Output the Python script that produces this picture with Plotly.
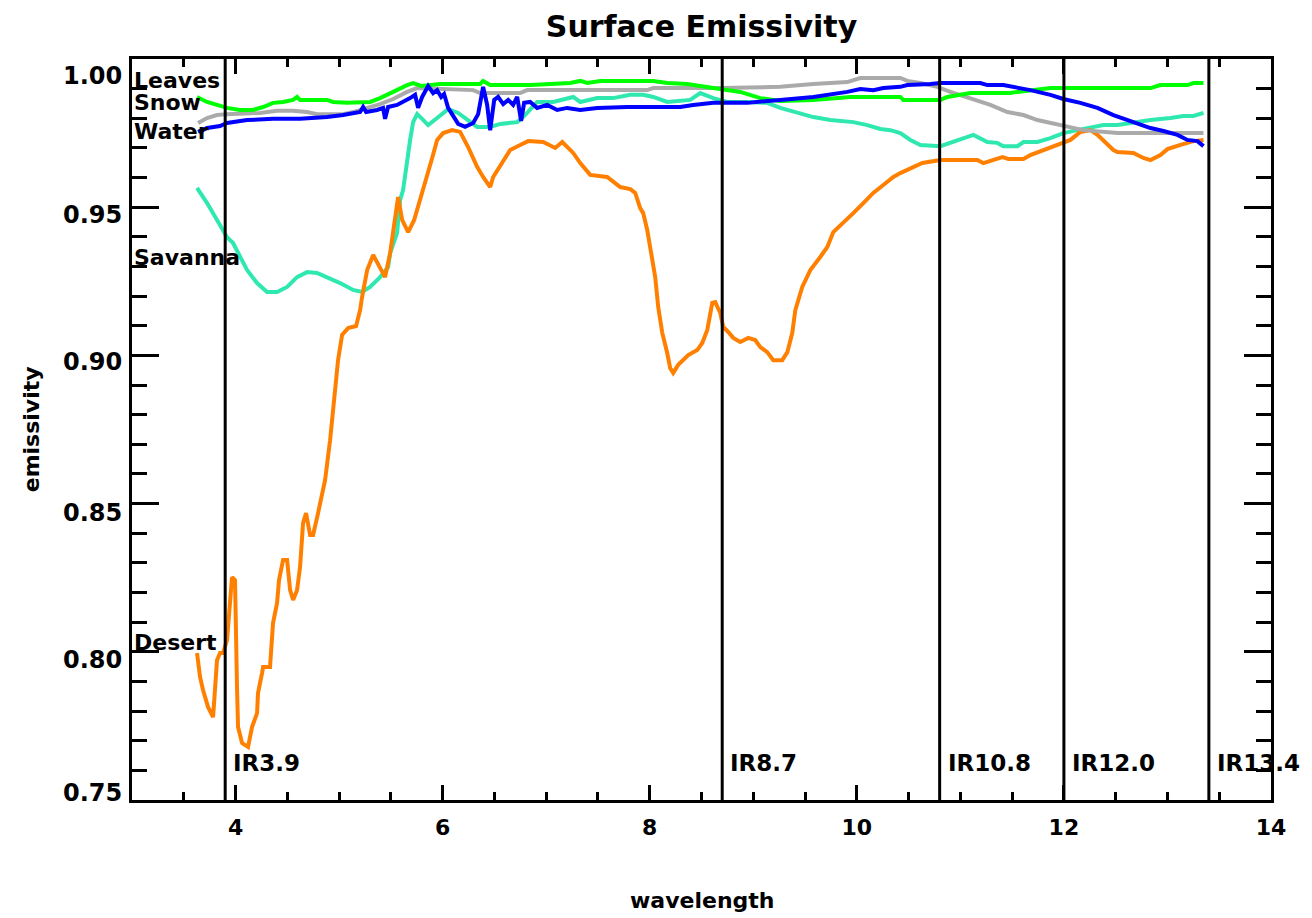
import plotly.graph_objects as go

# ---------------- data ----------------
desert_x = [3.628, 3.657, 3.686, 3.734, 3.783, 3.802, 3.821, 3.850, 3.879, 3.918, 3.947, 3.966, 3.995,
            4.005, 4.014, 4.024, 4.063, 4.121, 4.159, 4.208, 4.217, 4.256, 4.266, 4.333, 4.362, 4.401,
            4.420, 4.459, 4.498, 4.527, 4.556, 4.594, 4.623, 4.652, 4.681, 4.720, 4.749, 4.797, 4.836,
            4.865, 4.913, 4.952, 4.990, 5.029, 5.087, 5.164, 5.203, 5.222, 5.271, 5.329, 5.396, 5.444,
            5.493, 5.541, 5.570, 5.609, 5.667, 5.725, 5.783, 5.850, 5.899, 5.947, 6.005, 6.092, 6.169,
            6.246, 6.333, 6.391, 6.459, 6.488, 6.585, 6.652, 6.749, 6.826, 6.971, 7.039, 7.087, 7.155,
            7.261, 7.329, 7.425, 7.589, 7.715, 7.812, 7.860, 7.908, 7.937, 7.976, 8.024, 8.053, 8.082,
            8.121, 8.169, 8.198, 8.227, 8.275, 8.372, 8.459, 8.507, 8.556, 8.604, 8.633, 8.681, 8.710,
            8.758, 8.807, 8.874, 8.952, 9.019, 9.068, 9.135, 9.193, 9.280, 9.329, 9.377, 9.406, 9.473,
            9.551, 9.647, 9.715, 9.773, 9.870, 9.966, 10.063, 10.159, 10.256, 10.353, 10.420, 10.517,
            10.633, 10.807, 11.164, 11.222, 11.319, 11.406, 11.464, 11.609, 11.676, 11.802, 11.937,
            12.063, 12.159, 12.256, 12.324, 12.478, 12.517, 12.671, 12.768, 12.836, 12.932, 13.000,
            13.126, 13.251, 13.348]
desert_y = [0.7996, 0.7915, 0.7871, 0.7814, 0.7780, 0.7861, 0.7972, 0.7996, 0.7996, 0.8040, 0.8151,
            0.8252, 0.8242, 0.7949, 0.7881, 0.7746, 0.7692, 0.7679, 0.7746, 0.7793, 0.7861, 0.7928,
            0.7949, 0.7949, 0.8097, 0.8165, 0.8242, 0.8310, 0.8310, 0.8208, 0.8175, 0.8208, 0.8286,
            0.8434, 0.8468, 0.8394, 0.8394, 0.8468, 0.8536, 0.8580, 0.8714, 0.8849, 0.8984, 0.9069,
            0.9092, 0.9099, 0.9153, 0.9197, 0.9288, 0.9339, 0.9298, 0.9264, 0.9345, 0.9457, 0.9534,
            0.9457, 0.9416, 0.9457, 0.9524, 0.9599, 0.9666, 0.9727, 0.9750, 0.9760, 0.9754, 0.9703,
            0.9636, 0.9602, 0.9568, 0.9602, 0.9659, 0.9693, 0.9710, 0.9723, 0.9720, 0.9710, 0.9700,
            0.9720, 0.9683, 0.9649, 0.9609, 0.9602, 0.9568, 0.9561, 0.9548, 0.9497, 0.9480, 0.9423,
            0.9332, 0.9264, 0.9163, 0.9076, 0.9008, 0.8957, 0.8941, 0.8968, 0.9001, 0.9018, 0.9042,
            0.9086, 0.9177, 0.9180, 0.9143, 0.9096, 0.9079, 0.9059, 0.9045, 0.9059, 0.9052, 0.9028,
            0.9011, 0.8984, 0.8984, 0.9011, 0.9076, 0.9153, 0.9231, 0.9288, 0.9332, 0.9366, 0.9416,
            0.9447, 0.9480, 0.9514, 0.9548, 0.9575, 0.9602, 0.9615, 0.9632, 0.9649, 0.9659, 0.9659,
            0.9649, 0.9659, 0.9669, 0.9663, 0.9663, 0.9676, 0.9693, 0.9710, 0.9727, 0.9754, 0.9760,
            0.9744, 0.9693, 0.9686, 0.9683, 0.9666, 0.9659, 0.9676, 0.9696, 0.9710, 0.9723, 0.9727]

savanna_x = [3.628, 3.725, 3.821, 3.918, 3.976, 4.043, 4.111, 4.208, 4.304, 4.401, 4.498, 4.594, 4.691,
             4.787, 4.884, 5.010, 5.135, 5.222, 5.300, 5.396, 5.473, 5.493, 5.560, 5.589, 5.618, 5.657,
             5.686, 5.715, 5.754, 5.802, 5.860, 5.947, 6.053, 6.150, 6.237, 6.333, 6.459, 6.556, 6.720,
             6.778, 6.913, 7.068, 7.261, 7.329, 7.493, 7.647, 7.812, 7.937, 8.034, 8.169, 8.391, 8.488,
             8.614, 8.749, 8.942, 9.135, 9.261, 9.454, 9.580, 9.744, 9.966, 10.101, 10.227, 10.324,
             10.420, 10.517, 10.614, 10.807, 10.903, 11.029, 11.126, 11.261, 11.357, 11.415, 11.551,
             11.609, 11.744, 11.870, 11.995, 12.130, 12.256, 12.382, 12.517, 12.643, 12.836, 13.029,
             13.155, 13.251, 13.348]
savanna_y = [0.9565, 0.9514, 0.9457, 0.9399, 0.9379, 0.9332, 0.9288, 0.9244, 0.9214, 0.9214, 0.9231,
             0.9264, 0.9281, 0.9278, 0.9264, 0.9244, 0.9221, 0.9214, 0.9231, 0.9264, 0.9298, 0.9345,
             0.9413, 0.9524, 0.9558, 0.9669, 0.9727, 0.9787, 0.9814, 0.9798, 0.9777, 0.9801, 0.9831,
             0.9818, 0.9794, 0.9771, 0.9771, 0.9781, 0.9787, 0.9804, 0.9855, 0.9855, 0.9872, 0.9855,
             0.9868, 0.9868, 0.9879, 0.9879, 0.9872, 0.9855, 0.9862, 0.9885, 0.9868, 0.9855, 0.9855,
             0.9852, 0.9835, 0.9818, 0.9804, 0.9794, 0.9787, 0.9777, 0.9764, 0.9760, 0.9750, 0.9727,
             0.9710, 0.9706, 0.9717, 0.9733, 0.9744, 0.9720, 0.9717, 0.9706, 0.9706, 0.9720, 0.9720,
             0.9733, 0.9750, 0.9760, 0.9767, 0.9777, 0.9777, 0.9784, 0.9794, 0.9801, 0.9808, 0.9808,
             0.9818]

leaves_x = [3.628, 3.725, 3.821, 3.918, 4.043, 4.169, 4.266, 4.362, 4.459, 4.556, 4.594, 4.623, 4.884,
            4.942, 5.077, 5.203, 5.300, 5.396, 5.493, 5.589, 5.657, 5.715, 5.792, 5.976, 6.362, 6.391,
            6.459, 6.845, 7.232, 7.329, 7.396, 7.522, 8.034, 8.169, 8.362, 8.614, 8.874, 9.068, 9.261,
            9.580, 9.937, 10.420, 10.449, 10.807, 10.874, 11.097, 11.483, 11.551, 11.870, 12.836,
            12.932, 13.193, 13.251, 13.348]
leaves_y = [0.9872, 0.9855, 0.9845, 0.9835, 0.9828, 0.9828, 0.9838, 0.9852, 0.9855, 0.9862, 0.9872,
            0.9862, 0.9862, 0.9855, 0.9852, 0.9852, 0.9855, 0.9868, 0.9885, 0.9902, 0.9912, 0.9919,
            0.9909, 0.9916, 0.9916, 0.9926, 0.9912, 0.9912, 0.9919, 0.9926, 0.9919, 0.9926, 0.9926,
            0.9919, 0.9916, 0.9902, 0.9889, 0.9868, 0.9858, 0.9862, 0.9872, 0.9872, 0.9862, 0.9862,
            0.9872, 0.9885, 0.9885, 0.9889, 0.9902, 0.9902, 0.9912, 0.9912, 0.9919, 0.9919]

snow_x = [3.638, 3.725, 3.821, 3.918, 4.237, 4.401, 4.556, 4.691, 4.787, 5.039, 5.135, 5.271, 5.396,
          5.522, 5.657, 5.754, 6.295, 6.362, 6.749, 6.816, 7.976, 8.034, 8.681, 9.261, 9.580, 9.908,
          10.034, 10.420, 10.488, 10.614, 10.778, 10.903, 11.097, 11.290, 11.454, 11.609, 11.744,
          11.870, 12.034, 12.188, 12.517, 13.348]
snow_y = [0.9784, 0.9801, 0.9811, 0.9814, 0.9818, 0.9825, 0.9825, 0.9821, 0.9814, 0.9814, 0.9821,
          0.9835, 0.9848, 0.9865, 0.9889, 0.9902, 0.9895, 0.9885, 0.9885, 0.9895, 0.9895, 0.9902,
          0.9902, 0.9906, 0.9916, 0.9922, 0.9936, 0.9936, 0.9926, 0.9919, 0.9906, 0.9889, 0.9868,
          0.9845, 0.9821, 0.9811, 0.9794, 0.9784, 0.9771, 0.9760, 0.9750, 0.9750]

water_x = [3.638, 3.725, 3.850, 3.918, 4.111, 4.362, 4.623, 4.884, 5.039, 5.135, 5.203, 5.232, 5.261,
           5.367, 5.425, 5.444, 5.473, 5.560, 5.618, 5.686, 5.734, 5.763, 5.802, 5.860, 5.908, 5.947,
           5.986, 6.014, 6.053, 6.101, 6.150, 6.217, 6.295, 6.343, 6.391, 6.430, 6.459, 6.498, 6.536,
           6.585, 6.633, 6.681, 6.720, 6.758, 6.787, 6.845, 6.913, 7.010, 7.106, 7.203, 7.329, 7.493,
           7.783, 8.295, 8.420, 8.614, 8.942, 9.261, 9.580, 9.908, 10.034, 10.159, 10.256, 10.420,
           10.488, 10.710, 10.807, 11.193, 11.261, 11.415, 11.512, 11.676, 11.870, 11.995, 12.159,
           12.324, 12.478, 12.671, 12.836, 12.961, 13.097, 13.193, 13.290, 13.348]
water_y = [0.9754, 0.9767, 0.9774, 0.9784, 0.9794, 0.9798, 0.9798, 0.9804, 0.9811, 0.9818, 0.9821,
           0.9838, 0.9821, 0.9828, 0.9835, 0.9798, 0.9838, 0.9845, 0.9855, 0.9868, 0.9879, 0.9835,
           0.9872, 0.9909, 0.9885, 0.9895, 0.9872, 0.9882, 0.9835, 0.9808, 0.9781, 0.9771, 0.9784,
           0.9814, 0.9906, 0.9845, 0.9760, 0.9862, 0.9872, 0.9848, 0.9862, 0.9845, 0.9872, 0.9791,
           0.9852, 0.9855, 0.9835, 0.9845, 0.9828, 0.9835, 0.9828, 0.9835, 0.9838, 0.9838, 0.9845,
           0.9852, 0.9852, 0.9862, 0.9872, 0.9889, 0.9899, 0.9895, 0.9902, 0.9906, 0.9912, 0.9916,
           0.9919, 0.9919, 0.9912, 0.9912, 0.9906, 0.9895, 0.9879, 0.9865, 0.9852, 0.9835, 0.9811,
           0.9787, 0.9767, 0.9757, 0.9744, 0.9727, 0.9723, 0.9706]

series_names = ["Savanna", "Desert", "Snow", "Leaves", "Water"]
label_names = ["Leaves", "Snow", "Water", "Savanna", "Desert"]
label_y = [0.9929, 0.9852, 0.9757, 0.9329, 0.8030]

channels = [3.9, 8.7, 10.8, 12.0, 13.4]
channel_labels = ["IR3.9", "IR8.7", "IR10.8", "IR12.0", "IR13.4"]
channel_label_y = 0.7625

x_tickvals = [4, 6, 8, 10, 12, 14]
y_tickvals = [0.75, 0.80, 0.85, 0.90, 0.95, 1.00]
y_ticktext = ["0.75", "0.80", "0.85", "0.90", "0.95", "1.00"]

# ---------------- style ----------------
FONT = "DejaVu Sans"
colors = {"Savanna": "#2EE8B0", "Desert": "#FF8000", "Snow": "#AAAAAA",
          "Leaves": "#00FF00", "Water": "#0000FF"}
data = {"Savanna": (savanna_x, savanna_y), "Desert": (desert_x, desert_y),
        "Snow": (snow_x, snow_y), "Leaves": (leaves_x, leaves_y), "Water": (water_x, water_y)}
y_label_shift = {0.75: 7, 0.80: -8, 0.85: -9, 0.90: -7, 0.95: -8, 1.00: -17}

# the page body adds an 8px offset on the left and top
W, H = 1304, 910

fig = go.Figure()
for name in series_names:
    xs, ys = data[name]
    fig.add_trace(go.Scatter(x=xs, y=ys, mode="lines", name=name,
                             line=dict(color=colors[name], width=4), showlegend=False))

for c in channels:
    fig.add_shape(type="line", x0=c, x1=c, y0=0.75, y1=1.0, xref="x", yref="y",
                  line=dict(color="black", width=3))

ann = []
for c, t in zip(channels, channel_labels):
    ann.append(dict(x=c, y=channel_label_y, xref="x", yref="y", text=t, showarrow=False,
                    xanchor="left", yanchor="middle", xshift=6,
                    font=dict(family=FONT, size=23, color="black", weight="bold")))
for t, yv in zip(label_names, label_y):
    ann.append(dict(x=3, y=yv, xref="x", yref="y", text=t, showarrow=False,
                    xanchor="left", yanchor="middle", xshift=0,
                    font=dict(family=FONT, size=22, color="black", weight="bold")))
for v, t in zip(y_tickvals, y_ticktext):
    ann.append(dict(x=0, y=v, xref="paper", yref="y", text=t, showarrow=False,
                    xanchor="right", yanchor="middle", xshift=-8, yshift=y_label_shift[v],
                    font=dict(family=FONT, size=24, color="black", weight="bold")))
ann.append(dict(x=0.5, y=-0.135, xref="paper", yref="paper", text="wavelength", showarrow=False,
                xanchor="center", yanchor="middle",
                font=dict(family=FONT, size=22, color="black", weight="bold")))
ann.append(dict(x=-0.088, y=0.5, xref="paper", yref="paper", text="emissivity", showarrow=False,
                xanchor="center", yanchor="middle", textangle=-90,
                font=dict(family=FONT, size=22, color="black", weight="bold")))

fig.update_layout(
    width=W, height=H,
    margin=dict(l=124, r=41, t=51, b=118),
    paper_bgcolor="white", plot_bgcolor="white",
    title=dict(text="Surface Emissivity", x=0.5, xref="paper", y=1 - 18 / H, yref="container",
               xanchor="center", yanchor="middle",
               font=dict(family=FONT, size=30, color="black", weight="bold")),
    annotations=ann,
    showlegend=False,
)
fig.update_xaxes(range=[3, 14], tickvals=x_tickvals, showgrid=False, zeroline=False,
                 showline=True, linecolor="black", linewidth=3, mirror="allticks",
                 ticks="inside", ticklen=15, tickwidth=3, tickcolor="black",
                 ticklabelstandoff=6,
                 tickfont=dict(family=FONT, size=22, color="black", weight="bold"),
                 minor=dict(dtick=0.5, tick0=3, ticks="inside", ticklen=8, tickwidth=3,
                            tickcolor="black", showgrid=False))
fig.update_yaxes(range=[0.75, 1.0], tickvals=y_tickvals, showticklabels=False, showgrid=False,
                 zeroline=False, showline=True, linecolor="black", linewidth=3, mirror="allticks",
                 ticks="inside", ticklen=27, tickwidth=3, tickcolor="black",
                 minor=dict(dtick=0.01, tick0=0.75, ticks="inside", ticklen=15, tickwidth=3,
                            tickcolor="black", showgrid=False))

fig.write_html("out.html")
